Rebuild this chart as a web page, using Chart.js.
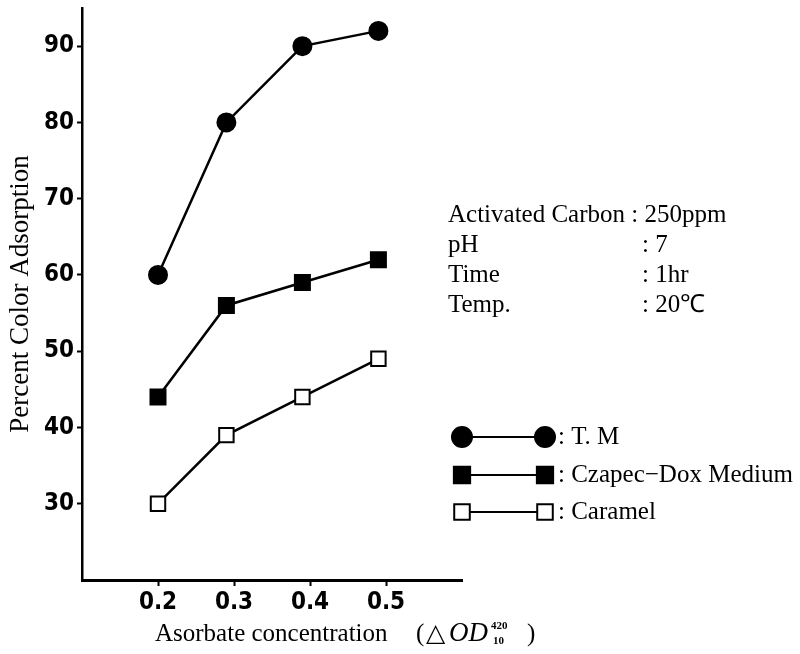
<!DOCTYPE html>
<html>
<head>
<meta charset="utf-8">
<script src="https://cdn.jsdelivr.net/npm/chart.js@4.4.0/dist/chart.umd.min.js"></script>
<style>
  html, body { margin: 0; padding: 0; background: #fff; }
  #wrap { width: 800px; height: 654px; }
</style>
</head>
<body>
<div id="wrap"><canvas id="chartContainer" width="800" height="654"></canvas></div>
<script>
// data
var concentration = [0.2, 0.29, 0.39, 0.49];
var tmValues = [60, 80, 90, 92];
var czapecValues = [44, 56, 59, 62];
var caramelValues = [30, 39, 44, 49];
var xTicks = [0.2, 0.3, 0.4, 0.5];
var yTicks = [30, 40, 50, 60, 70, 80, 90];
var seriesNames = ['T. M', 'Czapec\u2212Dox Medium', 'Caramel'];
var conditions = [
    ['Activated Carbon : 250ppm', ''],
    ['pH', ': 7'],
    ['Time', ': 1hr'],
    ['Temp.', ': 20\u2103']
];

// use a narrow bold sans for the tick numbers if one is installed
function hasFont(name) {
    var c = document.createElement('canvas').getContext('2d');
    var sample = '0123456789 Wmx';
    c.font = 'bold 40px monospace';
    var w0 = c.measureText(sample).width;
    c.font = "bold 40px '" + name + "', monospace";
    return c.measureText(sample).width !== w0;
}
var tickFamily = 'Liberation Sans';
var tickSize = 23;
if (hasFont('Liberation Sans Narrow')) {
    tickFamily = 'Liberation Sans Narrow';
    tickSize = 26;
} else if (hasFont('DejaVu Sans Condensed')) {
    tickFamily = 'DejaVu Sans Condensed';
    tickSize = 24;
}
var tickFont = { family: "'" + tickFamily + "', Arial, sans-serif", size: tickSize, weight: 'bold' };
var serif = "'Liberation Serif', 'Times New Roman', serif";

function toPoints(values) {
    return values.map(function(v, i) {
        return { x: concentration[i], y: v };
    });
}

var styles = [
    { pointStyle: 'circle', pointRadius: 9, bg: '#000', legendRadius: 10 },
    { pointStyle: 'rect', pointRadius: 10.6, bg: '#000', legendRadius: 11.5 },
    { pointStyle: 'rect', pointRadius: 10.2, bg: '#fff', legendRadius: 11 }
];

var datasets = [tmValues, czapecValues, caramelValues].map(function(vals, i) {
    return {
        label: seriesNames[i],
        data: toPoints(vals),
        showLine: true,
        borderColor: '#000',
        borderWidth: 2.5,
        pointStyle: styles[i].pointStyle,
        pointRadius: styles[i].pointRadius,
        pointBackgroundColor: styles[i].bg,
        pointBorderColor: '#000',
        pointBorderWidth: 2,
        legendRadius: styles[i].legendRadius
    };
});

function noPadding(scale) {
    scale.paddingTop = 0;
    scale.paddingBottom = 0;
    scale.paddingLeft = 0;
    scale.paddingRight = 0;
}

// side notes, legend and x title drawn as text on the canvas
var extrasPlugin = {
    id: 'extras',
    afterDraw: function(chart) {
        var ctx = chart.ctx;
        ctx.save();
        ctx.fillStyle = '#000';
        ctx.textBaseline = 'middle';
        ctx.textAlign = 'left';

        // experiment conditions
        ctx.font = '25px ' + serif;
        conditions.forEach(function(row, i) {
            var y = 215 + i * 30;
            ctx.fillText(row[0], 448, y);
            if (row[1]) ctx.fillText(row[1], 642, y);
        });

        // legend
        var rows = [437, 475, 512];
        chart.data.datasets.forEach(function(ds, i) {
            var y = rows[i];
            ctx.strokeStyle = '#000';
            ctx.lineWidth = 2;
            ctx.beginPath();
            ctx.moveTo(462, y);
            ctx.lineTo(545, y);
            ctx.stroke();
            [462, 545].forEach(function(x) {
                ctx.fillStyle = ds.pointBackgroundColor;
                ctx.strokeStyle = '#000';
                ctx.lineWidth = 2;
                Chart.helpers.drawPoint(ctx, {
                    pointStyle: ds.pointStyle,
                    rotation: 0,
                    radius: ds.legendRadius,
                    borderWidth: 2
                }, x, y);
            });
            ctx.fillStyle = '#000';
            ctx.font = '25px ' + serif;
            ctx.fillText(': ' + ds.label, 558, y);
        });

        // x axis title with OD superscript/subscript
        var ty = 634;
        ctx.font = '25px ' + serif;
        ctx.fillText('Asorbate concentration', 155, ty);
        ctx.fillText('(', 416, ty);
        ctx.fillText('\u25B3', 426, ty);
        ctx.font = 'italic 27px ' + serif;
        ctx.fillText('OD', 449, ty);
        ctx.font = 'bold 11px ' + serif;
        ctx.fillText('420', 491, ty - 8);
        ctx.fillText('10', 493, ty + 7);
        ctx.font = '25px ' + serif;
        ctx.fillText(')', 527, ty);
        ctx.restore();
    }
};

var ctx = document.getElementById('chartContainer').getContext('2d');
new Chart(ctx, {
    type: 'scatter',
    data: { datasets: datasets },
    options: {
        responsive: false,
        animation: false,
        layout: {
            autoPadding: false,
            padding: { top: 8, right: 338, left: 0, bottom: 0 }
        },
        plugins: {
            legend: { display: false },
            tooltip: { enabled: false }
        },
        scales: {
            x: {
                type: 'linear',
                min: 0.1,
                max: 0.6,
                afterBuildTicks: function(scale) {
                    scale.ticks = xTicks.map(function(v) { return { value: v }; });
                },
                afterFit: function(scale) {
                    scale.height = 74;
                    noPadding(scale);
                },
                ticks: {
                    color: '#000',
                    font: tickFont,
                    padding: 2,
                    maxRotation: 0,
                    callback: function(v) { return v.toFixed(1); }
                },
                grid: {
                    drawOnChartArea: false,
                    drawTicks: true,
                    tickLength: 6,
                    tickColor: '#000',
                    tickWidth: 2
                },
                border: { color: '#000', width: 3 }
            },
            y: {
                type: 'linear',
                min: 20,
                max: 95,
                afterBuildTicks: function(scale) {
                    scale.ticks = yTicks.map(function(v) { return { value: v }; });
                },
                afterFit: function(scale) {
                    scale.width = 82;
                    noPadding(scale);
                },
                ticks: {
                    color: '#000',
                    font: tickFont,
                    padding: 3
                },
                grid: {
                    drawOnChartArea: false,
                    drawTicks: true,
                    tickLength: 5,
                    tickColor: '#000',
                    tickWidth: 2
                },
                border: { color: '#000', width: 2.5 },
                title: {
                    display: true,
                    text: 'Percent Color Adsorption',
                    color: '#000',
                    font: { family: serif, size: 27 },
                    padding: { top: 5, bottom: 0 }
                }
            }
        }
    },
    plugins: [extrasPlugin]
});
</script>
</body>
</html>
